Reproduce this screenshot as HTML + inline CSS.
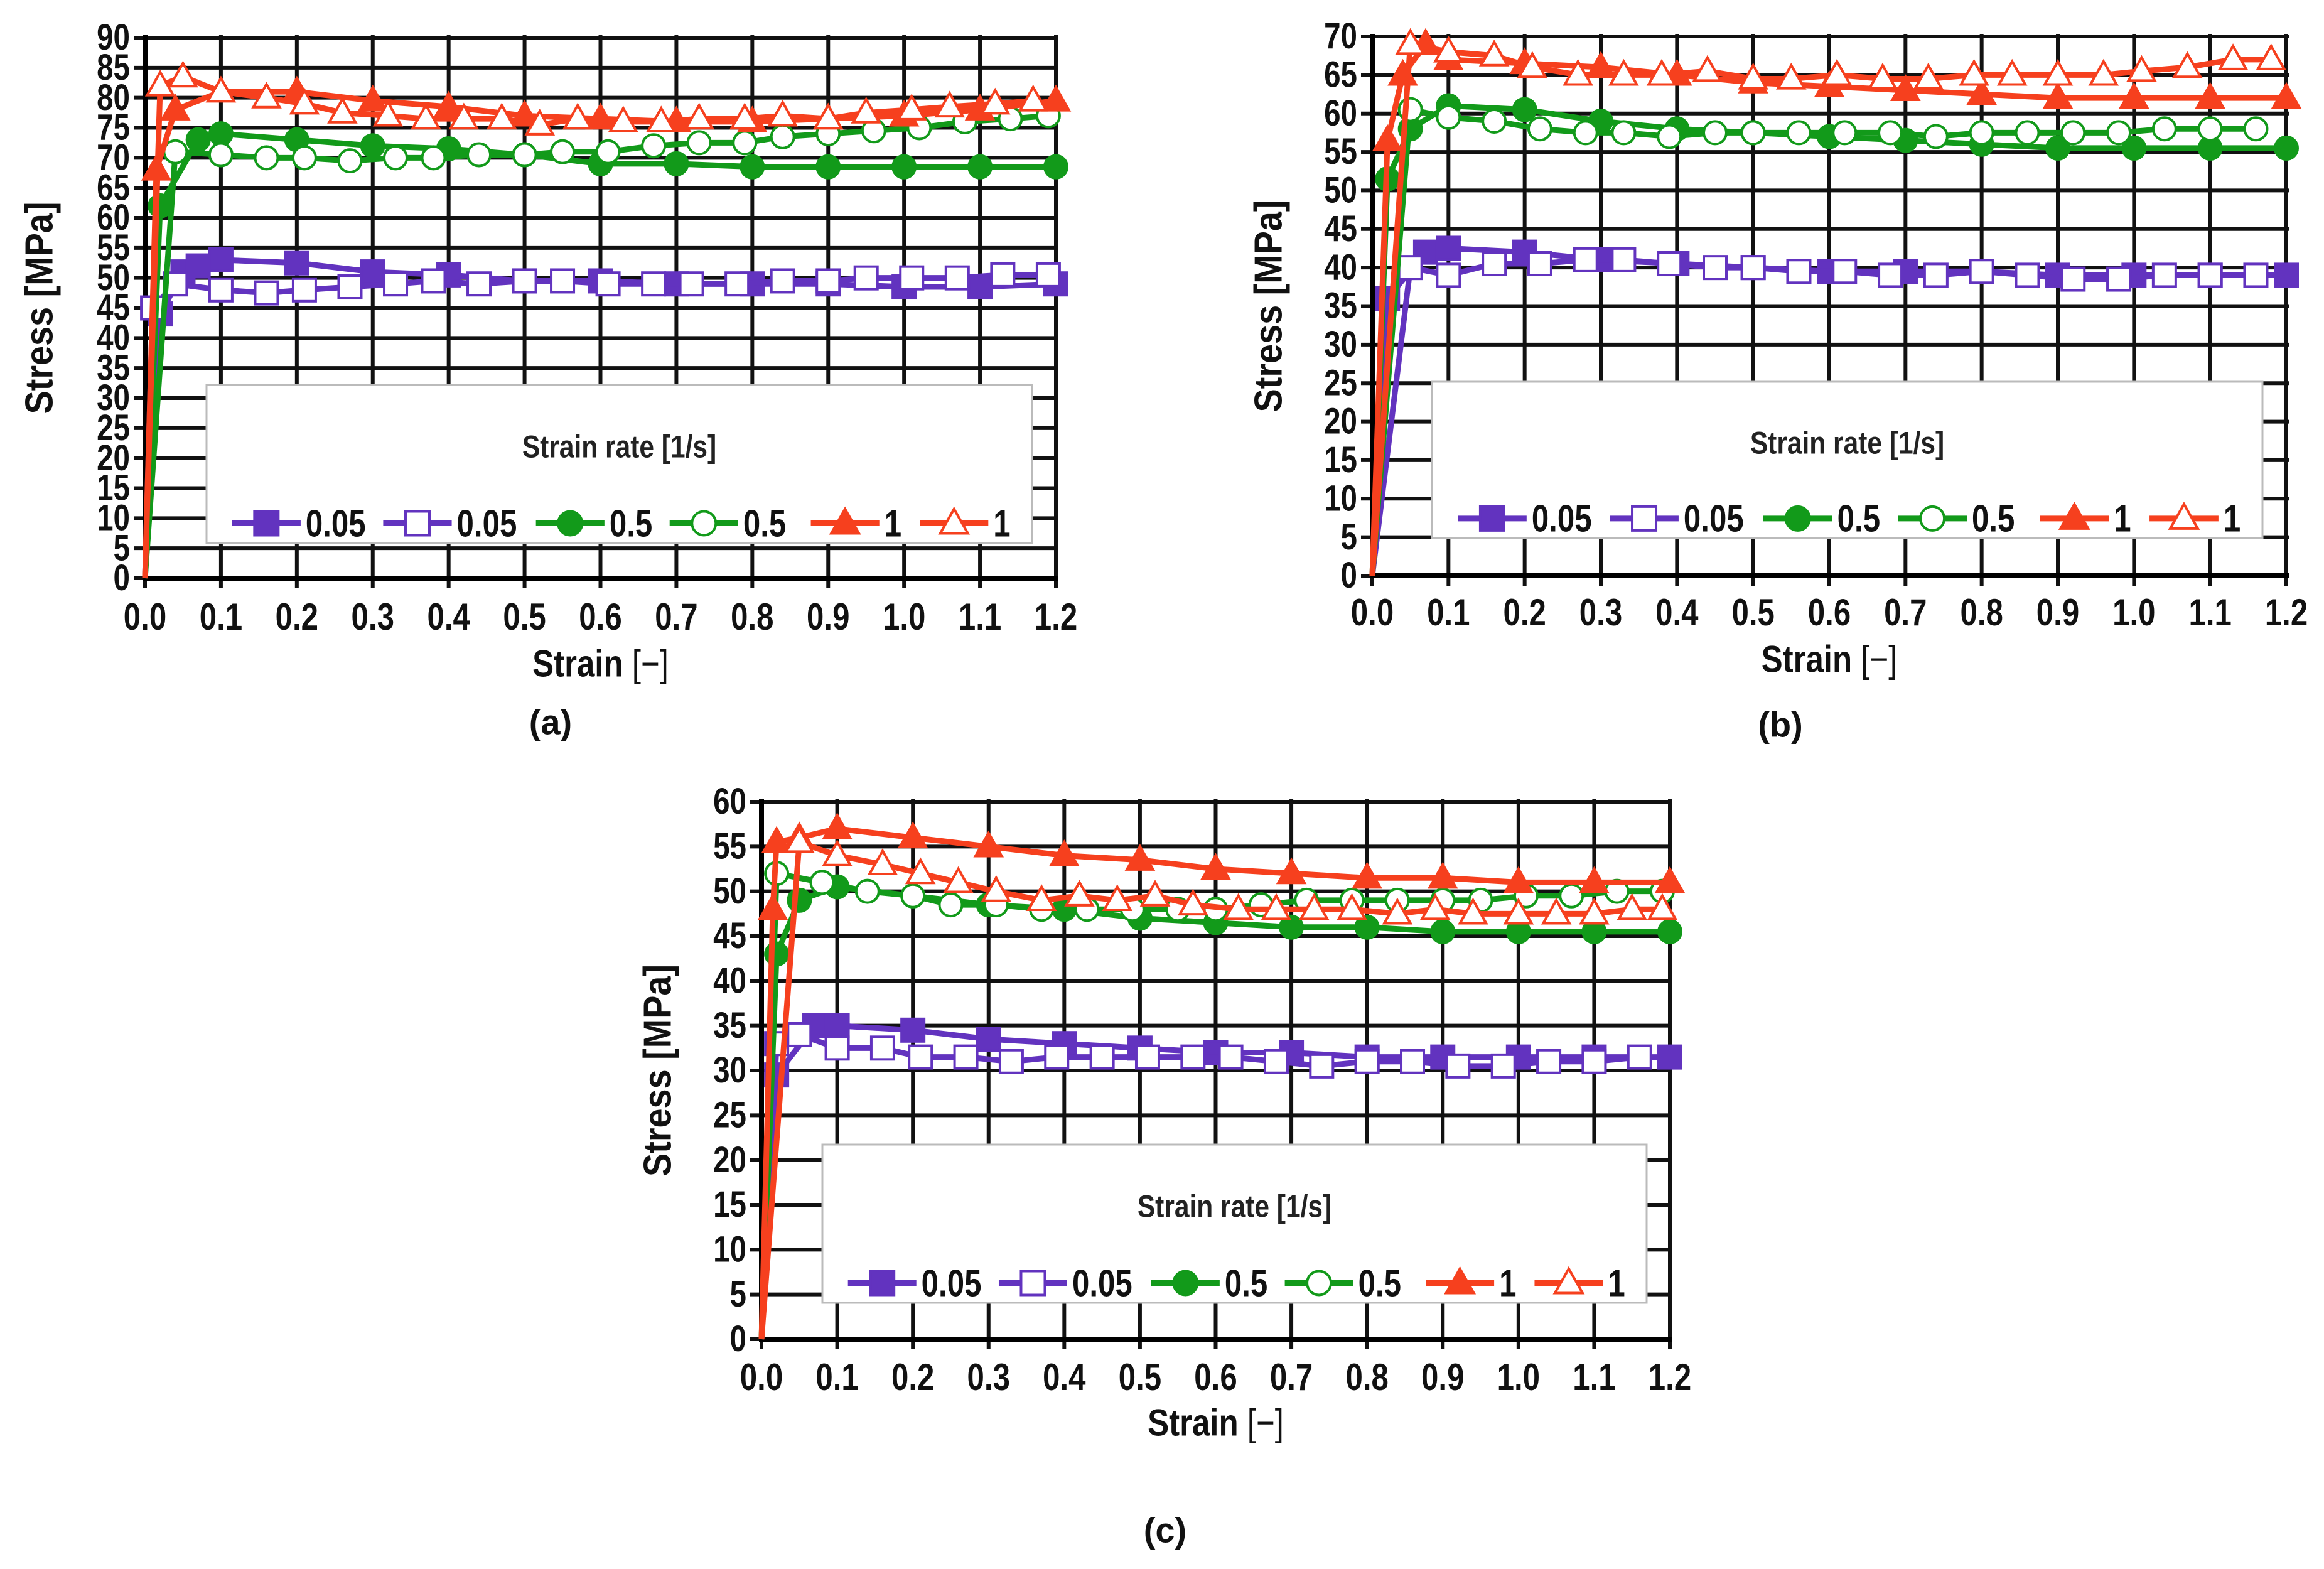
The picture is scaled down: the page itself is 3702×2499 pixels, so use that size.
<!DOCTYPE html>
<html><head><meta charset="utf-8"><style>
html,body{margin:0;padding:0;background:#fff}
svg{display:block}
text{font-family:"Liberation Sans",sans-serif}
</style></head><body>
<svg id="fig" width="3702" height="2499" viewBox="0 0 3702 2499" xmlns="http://www.w3.org/2000/svg"></svg>
<script>
// ---------- shared labels ----------
const xTicks = [0,0.1,0.2,0.3,0.4,0.5,0.6,0.7,0.8,0.9,1.0,1.1,1.2];
const xTickLabels = ["0.0","0.1","0.2","0.3","0.4","0.5","0.6","0.7","0.8","0.9","1.0","1.1","1.2"];
const legendLabels = ["0.05","0.05","0.5","0.5","1","1"];

// ---------- DATA (a) ----------
const a_f005_x=[0,0.02,0.05,0.07,0.1,0.2,0.3,0.4,0.5,0.6,0.7,0.8,0.9,1.0,1.1,1.2];
const a_f005_y=[0,44,51,52,53,52.5,51,50.5,49.5,49.5,49,49,49,48.5,48.5,49];
const a_o005_x=[0,0.01,0.04,0.1,0.16,0.21,0.27,0.33,0.38,0.44,0.5,0.55,0.61,0.67,0.72,0.78,0.84,0.9,0.95,1.01,1.07,1.13,1.19];
const a_o005_y=[0,45,49,48,47.5,48,48.5,49,49.5,49,49.5,49.5,49,49,49,49,49.5,49.5,50,50,50,50.5,50.5];
const a_f05_x=[0,0.02,0.07,0.1,0.2,0.3,0.4,0.5,0.6,0.7,0.8,0.9,1.0,1.1,1.2];
const a_f05_y=[0,62,73,74,73,72,71.5,70.5,69,69,68.5,68.5,68.5,68.5,68.5];
const a_o05_x=[0,0.04,0.1,0.16,0.21,0.27,0.33,0.38,0.44,0.5,0.55,0.61,0.67,0.73,0.79,0.84,0.9,0.96,1.02,1.08,1.14,1.19];
const a_o05_y=[0,71,70.5,70,70,69.5,70,70,70.5,70.5,71,71,72,72.5,72.5,73.5,74,74.5,75,76,76.5,77];
const a_f1_x=[0,0.015,0.04,0.1,0.2,0.3,0.4,0.5,0.6,0.7,0.8,0.9,1.0,1.1,1.2];
const a_f1_y=[0,68,78,81,81,79.5,78.5,77,76.5,76,76,76.5,77,78,79.5];
const a_o1_x=[0,0.02,0.05,0.1,0.16,0.21,0.26,0.32,0.37,0.42,0.47,0.52,0.57,0.63,0.68,0.73,0.79,0.84,0.9,0.95,1.01,1.06,1.12,1.17];
const a_o1_y=[0,82,83.5,81,80,79,77.5,77,76.5,76.5,76.5,75.5,76.5,76,76,76.5,76.5,77,76.5,77.5,78,78.5,79,79.5];

// ---------- DATA (b) ----------
const b_f005_x=[0,0.02,0.07,0.1,0.2,0.3,0.4,0.5,0.6,0.7,0.8,0.9,1.0,1.1,1.2];
const b_f005_y=[0,36,42,42.5,42,41,40.5,40,39.5,39.5,39.5,39,39,39,39];
const b_o005_x=[0,0.05,0.1,0.16,0.22,0.28,0.33,0.39,0.45,0.5,0.56,0.62,0.68,0.74,0.8,0.86,0.92,0.98,1.04,1.1,1.16];
const b_o005_y=[0,40,39,40.5,40.5,41,41,40.5,40,40,39.5,39.5,39,39,39.5,39,38.5,38.5,39,39,39];
const b_f05_x=[0,0.02,0.05,0.1,0.2,0.3,0.4,0.5,0.6,0.7,0.8,0.9,1.0,1.1,1.2];
const b_f05_y=[0,51.5,58,61,60.5,59,58,57.5,57,56.5,56,55.5,55.5,55.5,55.5];
const b_o05_x=[0,0.05,0.1,0.16,0.22,0.28,0.33,0.39,0.45,0.5,0.56,0.62,0.68,0.74,0.8,0.86,0.92,0.98,1.04,1.1,1.16];
const b_o05_y=[0,60.5,59.5,59,58,57.5,57.5,57,57.5,57.5,57.5,57.5,57.5,57,57.5,57.5,57.5,57.5,58,58,58];
const b_f1_x=[0,0.02,0.04,0.07,0.1,0.2,0.3,0.4,0.5,0.6,0.7,0.8,0.9,1.0,1.1,1.2];
const b_f1_y=[0,56.5,65,69,67,66.5,66,65,64,63.5,63,62.5,62,62,62,62];
const b_o1_x=[0,0.05,0.1,0.16,0.21,0.27,0.33,0.38,0.44,0.5,0.55,0.61,0.67,0.73,0.79,0.84,0.9,0.96,1.01,1.07,1.13,1.18];
const b_o1_y=[0,69,68,67.5,66,65,65,65,65.5,64.5,64.5,65,64.5,64.5,65,65,65,65,65.5,66,67,67];

// ---------- DATA (c) ----------
const c_f005_x=[0,0.02,0.07,0.1,0.2,0.3,0.4,0.5,0.6,0.7,0.8,0.9,1.0,1.1,1.2];
const c_f005_y=[0,29.5,35,35,34.5,33.5,33,32.5,32,32,31.5,31.5,31.5,31.5,31.5];
const c_o005_x=[0,0.02,0.05,0.1,0.16,0.21,0.27,0.33,0.39,0.45,0.51,0.57,0.62,0.68,0.74,0.8,0.86,0.92,0.98,1.04,1.1,1.16];
const c_o005_y=[0,33,34,32.5,32.5,31.5,31.5,31,31.5,31.5,31.5,31.5,31.5,31,30.5,31,31,30.5,30.5,31,31,31.5];
const c_f05_x=[0,0.02,0.05,0.1,0.2,0.3,0.4,0.5,0.6,0.7,0.8,0.9,1.0,1.1,1.2];
const c_f05_y=[0,43,49,50.5,49.5,48.5,48,47,46.5,46,46,45.5,45.5,45.5,45.5];
const c_o05_x=[0,0.02,0.08,0.14,0.2,0.25,0.31,0.37,0.43,0.49,0.55,0.6,0.66,0.72,0.78,0.84,0.9,0.95,1.01,1.07,1.13,1.19];
const c_o05_y=[0,52,51,50,49.5,48.5,48.5,48,48,48,48,48,48.5,49,49,49,49,49,49.5,49.5,50,50];
const c_f1_x=[0,0.015,0.02,0.05,0.1,0.2,0.3,0.4,0.5,0.6,0.7,0.8,0.9,1.0,1.1,1.2];
const c_f1_y=[0,48,55.5,56,57,56,55,54,53.5,52.5,52,51.5,51.5,51,51,51];
const c_o1_x=[0,0.05,0.1,0.16,0.21,0.26,0.31,0.37,0.42,0.47,0.52,0.57,0.63,0.68,0.73,0.78,0.84,0.89,0.94,1.0,1.05,1.1,1.15,1.19];
const c_o1_y=[0,55.5,54,53,52,51,50,49,49.5,49,49.5,48.5,48,48,48,48,47.5,48,47.5,47.5,47.5,47.5,48,48];

const NS="http://www.w3.org/2000/svg";
const svg=document.getElementById('fig');
const COLORS={p:"#6233bf",g:"#129a1a",r:"#f6401e"};
function el(tag,attrs,parent){const e=document.createElementNS(NS,tag);for(const k in attrs)e.setAttribute(k,attrs[k]);parent.appendChild(e);return e;}
function txt(parent,x,y,str,size,anchor,sx,extra){
  const a={x:0,y:0,'text-anchor':anchor,'dominant-baseline':'central','font-size':size,'font-weight':'bold',fill:'#111',transform:`translate(${x} ${y}) scale(${sx} 1)`};
  if(extra)for(const k in extra)a[k]=extra[k];
  const t=el('text',a,parent);t.textContent=str;return t;
}

function marker(g,type,filled,color,cx,cy,s){
  const fill=filled?color:"#fff";let m;
  if(type==='sq'){m=el('rect',{x:cx-s/2,y:cy-s/2,width:s,height:s,fill:fill,stroke:color,'stroke-width':4},g);}
  else if(type==='ci'){m=el('circle',{cx:cx,cy:cy,r:s/2,fill:fill,stroke:color,'stroke-width':4},g);}
  else {m=el('polygon',{points:`${cx},${cy-s*0.6} ${cx+s*0.58},${cy+s*0.42} ${cx-s*0.58},${cy+s*0.42}`,fill:fill,stroke:color,'stroke-width':4},g);}
  return m;
}

function chart(cfg){
  const g=el('g',{},svg);
  
  
  const X=v=>cfg.x0+(v/1.2)*(cfg.x1-cfg.x0);
  const Y=v=>cfg.yb-(v/cfg.ymax)*(cfg.yb-cfg.yt);
  const grid=el('g',{},g);
  
  
  for(let v=0;v<=cfg.ymax;v+=5){
    const l=el('line',{x1:cfg.x0-18,x2:cfg.x1+4,y1:Y(v),y2:Y(v),stroke:'#111','stroke-width':6},grid);
    
    
    const t=txt(g,cfg.x0-24,Y(v),String(v),58,'end',0.82);
    
    
  }
  xTicks.forEach((v,i)=>{
    const l=el('line',{x1:X(v),x2:X(v),y1:cfg.yt-4,y2:cfg.yb+16,stroke:'#111','stroke-width':6},grid);
    
    
    const t=txt(g,X(v),cfg.ty,xTickLabels[i],60,'middle',0.82);
    
    
  });
  const ax=el('path',{d:`M${cfg.x0},${cfg.yt-4} V${cfg.yb} H${cfg.x1+4}`,fill:'none',stroke:'#000','stroke-width':8},g);
  
  
  const cy=(cfg.yt+cfg.yb)/2;
  const yt=el('text',{x:0,y:0,'text-anchor':'middle','dominant-baseline':'central','font-size':62,'font-weight':'bold',fill:'#111',transform:`translate(${cfg.ytx} ${cy}) rotate(-90) scale(0.9 1)`},g);
  yt.textContent='Stress [MPa]';
  
  
  const xt=el('text',{x:0,y:0,'text-anchor':'middle','dominant-baseline':'central','font-size':60,'font-weight':'bold',fill:'#111',transform:`translate(${(cfg.x0+cfg.x1)/2} ${cfg.xty}) scale(0.85 1)`},g);
  xt.innerHTML='Strain <tspan font-weight="normal">[−]</tspan>';
  
  
  const cap=el('text',{x:cfg.capx,y:cfg.capy,'text-anchor':'middle','dominant-baseline':'central','font-size':56,'font-weight':'bold',fill:'#111','font-family':'Liberation Serif, serif'},g);
  cap.textContent=cfg.cap;
  
  
  const types=['sq','sq','ci','ci','tr','tr'];const fills=[1,0,1,0,1,0];const cols=['p','p','g','g','r','r'];
  const names=['series-0.05-filled','series-0.05-open','series-0.5-filled','series-0.5-open','series-1-filled','series-1-open'];
  cfg.series.forEach((s,i)=>{
    const sg=el('g',{},g);
    
    
    const c=COLORS[cols[i]];
    const pts=s[0].map((x,j)=>X(x)+','+Y(s[1][j])).join(' ');
    const pl=el('polyline',{points:pts,fill:'none',stroke:c,'stroke-width':9,'stroke-linejoin':'round'},sg);
    
    
    s[0].forEach((x,j)=>{ if(j===0) return;
      const m=marker(sg,types[i],fills[i],c,X(x),Y(s[1][j]),36);
      
      
    });
  });
  const L=cfg.leg;const lw=L[2]-L[0],lh=L[3]-L[1];
  const lg=el('g',{},g);
  
  
  el('rect',{x:L[0],y:L[1],width:lw,height:lh,fill:'#fff',stroke:'#bbb','stroke-width':3},lg);
  const lt=txt(lg,L[0]+lw*0.5,L[1]+lh*0.39,'Strain rate [1/s]',50,'middle',0.85,{fill:'#222'});
  
  
  const starts=[0.031,0.214,0.399,0.561,0.732,0.864];
  starts.forEach((f,i)=>{
    const e=el('g',{},lg);
    
    
    const c=COLORS[cols[i]];const ly=L[1]+lh*0.875;const lx=L[0]+lw*f;const ll=lw*0.083;
    el('line',{x1:lx,x2:lx+ll,y1:ly,y2:ly,stroke:c,'stroke-width':9},e);
    marker(e,types[i],fills[i],c,lx+ll/2,ly,38);
    txt(e,lx+ll+8,ly,legendLabels[i],60,'start',0.82);
  });
}

chart({name:'chart-a',x0:231,x1:1682,yt:60,yb:921,ymax:90,ty:982,xty:1057,ytx:63,capx:877,capy:1150,cap:'(a)',leg:[329,613,1644,865],
  series:[[a_f005_x,a_f005_y],[a_o005_x,a_o005_y],[a_f05_x,a_f05_y],[a_o05_x,a_o05_y],[a_f1_x,a_f1_y],[a_o1_x,a_o1_y]]});
chart({name:'chart-b',x0:2186,x1:3642,yt:58,yb:917,ymax:70,ty:975,xty:1050,ytx:2021,capx:2836,capy:1154,cap:'(b)',leg:[2281,608,3604,857],
  series:[[b_f005_x,b_f005_y],[b_o005_x,b_o005_y],[b_f05_x,b_f05_y],[b_o05_x,b_o05_y],[b_f1_x,b_f1_y],[b_o1_x,b_o1_y]]});
chart({name:'chart-c',x0:1213,x1:2660,yt:1277,yb:2133,ymax:60,ty:2193,xty:2266,ytx:1048,capx:1856,capy:2437,cap:'(c)',leg:[1310,1823,2623,2075],
  series:[[c_f005_x,c_f005_y],[c_o005_x,c_o005_y],[c_f05_x,c_f05_y],[c_o05_x,c_o05_y],[c_f1_x,c_f1_y],[c_o1_x,c_o1_y]]});
</script>
</body></html>
